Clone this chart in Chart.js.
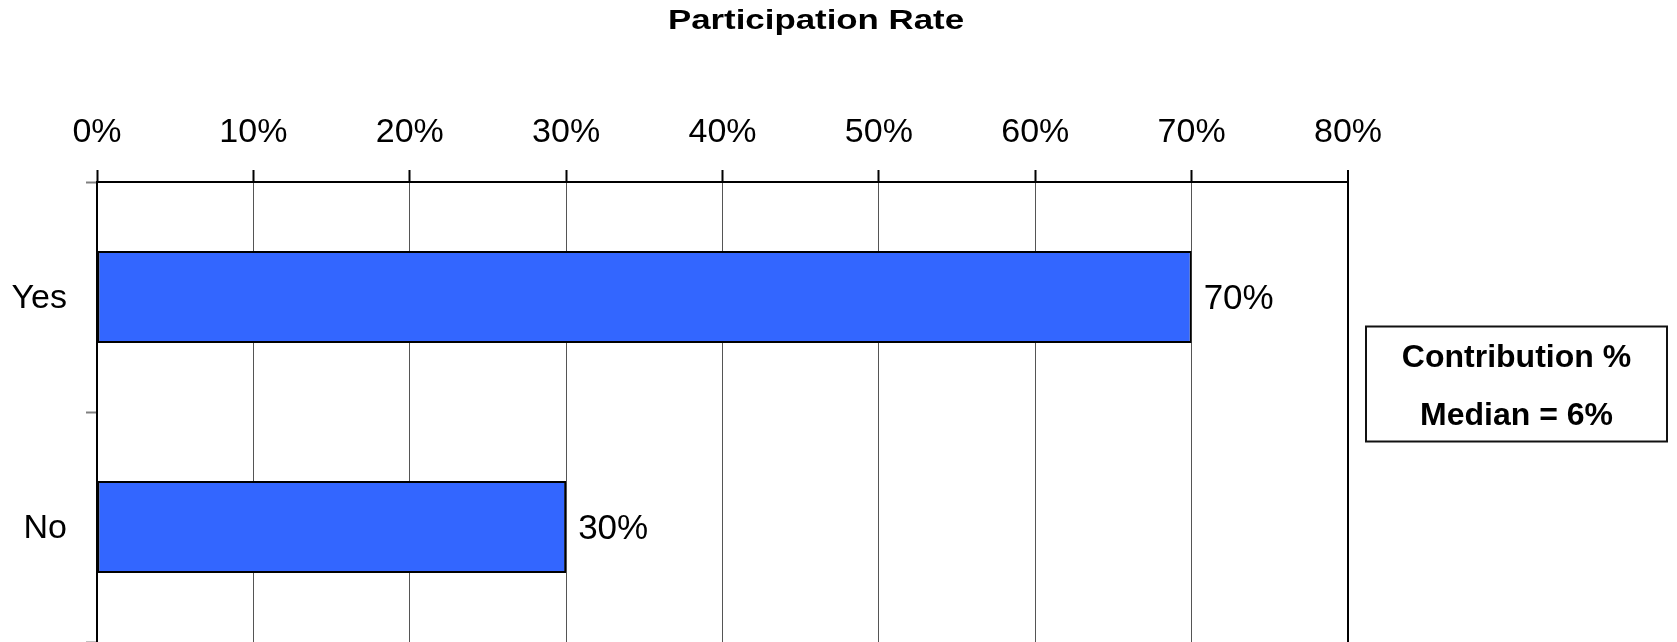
<!DOCTYPE html>
<html>
<head>
<meta charset="utf-8">
<script src="https://cdn.jsdelivr.net/npm/chart.js@4.4.1/dist/chart.umd.min.js"></script>
<style>
  html, body { margin: 0; padding: 0; background: #fff; }
  #wrap { width: 1677px; height: 642px; position: relative; }
</style>
</head>
<body>
<div id="wrap"><canvas id="c"></canvas></div>
<script>
const chartTitle = 'Participation Rate';
const categories = ['Yes', 'No'];
const participation = [70, 30];
const axisMin = 0;
const axisMax = 80;
const axisStep = 10;
const noteLines = ['Contribution %', 'Median = 6%'];

const FONT = '"Liberation Sans", Arial, Helvetica, sans-serif';

const extrasPlugin = {
  id: 'extras',
  afterDatasetsDraw(chart) {
    const ctx = chart.ctx;
    const meta = chart.getDatasetMeta(0);
    ctx.save();
    ctx.font = '35px ' + FONT;
    ctx.fillStyle = '#000';
    ctx.textAlign = 'left';
    ctx.textBaseline = 'middle';
    meta.data.forEach((bar, i) => {
      ctx.fillText(participation[i] + '%', bar.x + 12, bar.y + 2);
    });
    ctx.restore();
  },
  afterDraw(chart) {
    const ctx = chart.ctx;
    ctx.save();
    // title (horizontally widened, as in the reference)
    ctx.font = 'bold 27px ' + FONT;
    ctx.fillStyle = '#000';
    ctx.textAlign = 'center';
    ctx.textBaseline = 'middle';
    ctx.save();
    ctx.translate(816, 22);
    ctx.scale(1.29, 1);
    ctx.fillText(chartTitle, 0, 0);
    ctx.restore();
    // note box
    ctx.strokeStyle = '#111';
    ctx.lineWidth = 2;
    ctx.strokeRect(1366, 326.5, 301, 115);
    ctx.font = 'bold 32px ' + FONT;
    ctx.fillText(noteLines[0], 1516.5, 358);
    ctx.fillText(noteLines[1], 1516.5, 416);
    ctx.restore();
  }
};

new Chart(document.getElementById('c'), {
  type: 'bar',
  data: {
    labels: categories,
    datasets: [{
      data: participation,
      backgroundColor: '#3366FF',
      borderColor: '#000',
      borderWidth: 2,
      borderSkipped: false,
      barPercentage: 0.4,
      categoryPercentage: 1.0
    }]
  },
  options: {
    indexAxis: 'y',
    responsive: true,
    maintainAspectRatio: false,
    animation: false,
    layout: { padding: { left: 0, right: 329, top: 0, bottom: 0 } },
    plugins: {
      legend: { display: false },
      title: { display: false },
      tooltip: { enabled: false }
    },
    scales: {
      x: {
        position: 'top',
        min: axisMin,
        max: axisMax,
        afterFit(scale) { scale.height = 182; },
        ticks: {
          stepSize: axisStep,
          padding: 17,
          color: '#000',
          font: { family: FONT, size: 34 },
          callback: v => v + '%'
        },
        grid: {
          color: c => (c.tick && c.tick.value === axisMax) ? '#000' : '#555',
          lineWidth: c => (c.tick && c.tick.value === axisMax) ? 2 : 1,
          tickColor: '#000',
          tickWidth: 2,
          tickLength: 12
        },
        border: { display: true, color: '#000', width: 2 }
      },
      y: {
        afterFit(scale) {
          scale.width = 97;
          scale.paddingTop = 0;
          scale.paddingBottom = 0;
        },
        ticks: {
          padding: 19,
          labelOffset: 2,
          color: '#000',
          font: { family: FONT, size: 34 }
        },
        grid: {
          offset: true,
          drawOnChartArea: false,
          drawTicks: true,
          tickColor: '#808080',
          tickWidth: 2,
          tickLength: 11
        },
        border: { display: true, color: '#000', width: 2 }
      }
    }
  },
  plugins: [extrasPlugin]
});
</script>
</body>
</html>
